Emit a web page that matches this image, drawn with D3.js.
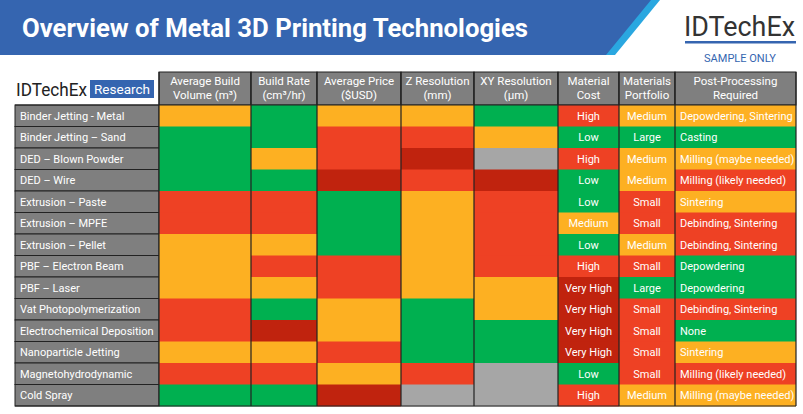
<!DOCTYPE html>
<html><head><meta charset="utf-8">
<script src="https://cdn.jsdelivr.net/npm/d3@7"></script>
<style>body{margin:0;background:#fff}svg{display:block;font-family:Roboto,"Liberation Sans",Arial,sans-serif}</style>
</head><body><svg id="c" width="803" height="414"></svg>
<script>
const technologies=["Binder Jetting - Metal","Binder Jetting – Sand","DED – Blown Powder","DED – Wire","Extrusion – Paste","Extrusion – MPFE","Extrusion – Pellet","PBF – Electron Beam","PBF – Laser","Vat Photopolymerization","Electrochemical Deposition","Nanoparticle Jetting","Magnetohydrodynamic","Cold Spray"];
const metricHeaders=[["Average Build","Volume (m³)"],["Build Rate","(cm³/hr)"],["Average Price","($USD)"],["Z Resolution","(mm)"],["XY Resolution","(µm)"],["Material","Cost"],["Materials","Portfolio"],["Post-Processing","Required"]];
// rating codes: G good, O medium, R poor, D very poor, X n/a
const buildVolume=["O","G","G","G","R","R","O","O","O","R","R","O","R","G"];
const buildRate=["G","G","O","G","R","R","O","R","O","G","D","O","R","G"];
const avgPrice=["O","R","R","D","G","G","G","R","R","O","O","R","O","D"];
const zRes=["O","R","D","R","O","O","O","O","O","G","G","G","R","X"];
const xyRes=["G","O","X","D","R","R","R","R","O","O","G","G","X","X"];
const materialCost=["High","Low","High","Low","Low","Medium","Low","High","Very High","Very High","Very High","Very High","Low","High"];
const materialsPortfolio=["Medium","Large","Medium","Medium","Small","Small","Medium","Small","Large","Small","Small","Small","Small","Medium"];
const postProcessing=["Depowdering, Sintering","Casting","Milling (maybe needed)","Milling (likely needed)","Sintering","Debinding, Sintering","Debinding, Sintering","Depowdering","Depowdering","Debinding, Sintering","None","Sintering","Milling (likely needed)","Milling (maybe needed)"];
const postColor=["O","G","O","R","O","R","R","G","G","R","G","O","R","O"];

const pal={G:"#00b050",O:"#fdb022",R:"#ee4124",D:"#c0230e",X:"#a6a6a6"};
const costC={"Low":"G","Medium":"O","High":"R","Very High":"D"};
const portC={"Large":"G","Medium":"O","Small":"R"};

const svg=d3.select("#c");
svg.append("path").attr("d","M0,0H660L615,55H0Z").attr("fill","#2aa7e0");
svg.append("path").attr("d","M0,0H651L606,55H0Z").attr("fill","#3565b0");
svg.append("text").attr("x",22).attr("y",37).attr("fill","#fff").attr("font-size",25).attr("font-weight","bold").attr("textLength",506).attr("lengthAdjust","spacingAndGlyphs").text("Overview of Metal 3D Printing Technologies");
svg.append("text").attr("x",684).attr("y",36).attr("fill","#333").attr("font-size",27).attr("textLength",111).attr("lengthAdjust","spacingAndGlyphs").text("IDTechEx");
svg.append("rect").attr("x",685).attr("y",41).attr("width",111).attr("height",2.5).attr("fill","#3565b0");
svg.append("text").attr("x",740).attr("y",62).attr("text-anchor","middle").attr("fill","#3565b0").attr("font-size",11).text("SAMPLE ONLY");
svg.append("text").attr("x",16).attr("y",96).attr("fill","#222").attr("font-size",18).attr("textLength",71).attr("lengthAdjust","spacingAndGlyphs").text("IDTechEx");
svg.append("rect").attr("x",90).attr("y",80).attr("width",64).attr("height",18).attr("fill","#3565b0");
svg.append("text").attr("x",122).attr("y",94).attr("text-anchor","middle").attr("fill","#fff").attr("font-size",13).attr("textLength",56).attr("lengthAdjust","spacingAndGlyphs").text("Research");

const edges=[159,251,317,401,474,558,619,675,796];
const x=d3.scaleOrdinal().domain(d3.range(8)).range(edges.slice(0,8));
const w=i=>edges[i+1]-edges[i];
const y=d3.scaleBand().domain(technologies).range([105,406]);

const hg=svg.append("g");
metricHeaders.forEach((h,i)=>{
  hg.append("rect").attr("x",x(i)).attr("y",72).attr("width",w(i)).attr("height",33).attr("fill","#7f7f7f").attr("stroke","#222").attr("stroke-width",1);
  h.forEach((t,j)=>hg.append("text").attr("x",x(i)+w(i)/2).attr("y",85+j*14).attr("text-anchor","middle").attr("fill","#fff").attr("font-size",11.5).text(t));
});
svg.selectAll(".rl").data(technologies).join("rect").attr("x",15).attr("y",d=>y(d)).attr("width",144).attr("height",y.bandwidth()).attr("fill","#7f7f7f").attr("stroke","#222");
svg.selectAll(".rt").data(technologies).join("text").attr("x",20).attr("y",d=>y(d)+y.bandwidth()/2+4).attr("fill","#fff").attr("font-size",11).text(d=>d);

const cols=[buildVolume,buildRate,avgPrice,zRes,xyRes];
cols.forEach((arr,ci)=>{
  svg.append("g").selectAll("rect").data(arr).join("rect").attr("x",x(ci)).attr("y",(d,i)=>y(technologies[i])).attr("width",w(ci)).attr("height",y.bandwidth()+0.5).attr("fill",d=>pal[d]);
});
const txtCols=[[materialCost,materialCost.map(v=>costC[v]),"middle"],[materialsPortfolio,materialsPortfolio.map(v=>portC[v]),"middle"],[postProcessing,postColor,"start"]];
txtCols.forEach(([vals,cs,anchor],k)=>{
  const ci=5+k;const g=svg.append("g");
  g.selectAll("rect").data(vals).join("rect").attr("x",x(ci)).attr("y",(d,i)=>y(technologies[i])).attr("width",w(ci)).attr("height",y.bandwidth()+0.5).attr("fill",(d,i)=>pal[cs[i]]);
  g.selectAll("text").data(vals).join("text").attr("x",anchor==="middle"?x(ci)+w(ci)/2:x(ci)+5).attr("y",(d,i)=>y(technologies[i])+y.bandwidth()/2+4).attr("text-anchor",anchor).attr("fill","#fff").attr("font-size",11).text(d=>d);
});
svg.append("g").selectAll("line").data(edges).join("line").attr("x1",d=>d).attr("x2",d=>d).attr("y1",72).attr("y2",406).attr("stroke","#222").attr("stroke-width",1.2);
svg.append("line").attr("x1",15).attr("x2",796).attr("y1",406).attr("y2",406).attr("stroke","#222");
svg.append("line").attr("x1",15).attr("x2",796).attr("y1",105).attr("y2",105).attr("stroke","#222");
</script></body></html>
